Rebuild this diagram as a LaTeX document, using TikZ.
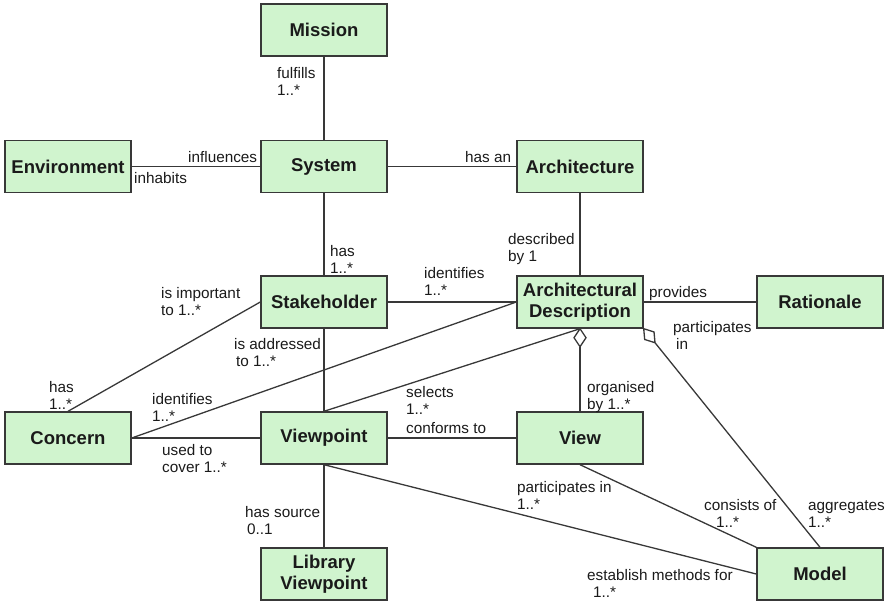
\documentclass[tikz,border=0pt]{standalone}
\usepackage{fontspec}
\setmainfont{Liberation Sans}
\usetikzlibrary{calc}
\definecolor{boxfill}{HTML}{D0F4CE}
\definecolor{edge}{HTML}{383838}
\definecolor{txt}{HTML}{1A1A1A}
\newcommand{\twol}[2]{\begin{tabular}[t]{@{}l@{}}#1\\#2\end{tabular}}
\newcommand{\aggdia}[2]{%
  \coordinate (dm) at ($(#1)!9pt!(#2)$);
  \coordinate (dend) at ($(#1)!18pt!(#2)$);
  \draw[conn, fill=white, line join=miter] (#1) -- ($(dm)!6pt!90:(#2)$) -- (dend) -- ($(dm)!6pt!-90:(#2)$) -- cycle;
  \draw[conn] (dend) -- (#2);}
\begin{document}
\begin{tikzpicture}[x=1pt,y=-1pt,
  cls/.style={draw=edge, fill=boxfill, line width=1.4pt, minimum width=126pt, minimum height=52pt, inner sep=0pt, font=\fontsize{18.5}{21}\selectfont\bfseries, text=txt, align=center},
  lbl/.style={inner sep=0pt, anchor=base west, font=\fontsize{15.3}{17}\selectfont, text=txt},
  conn/.style={draw=edge, line width=1.3pt}
]
\useasboundingbox (0,0) rectangle (889,603);
\node[cls] (mission) at (324,30) {Mission};
\node[cls] (env) at (68,166.5) {Environment};
\node[cls] (system) at (324,166.5) {System};
\node[cls] (arch) at (580,166.5) {Architecture};
\node[cls] (stake) at (324,302) {Stakeholder};
\node[cls] (ad) at (580,302) {Architectural\\Description};
\node[cls] (rat) at (820,302) {Rationale};
\node[cls] (concern) at (68,438) {Concern};
\node[cls] (vp) at (324,438) {Viewpoint};
\node[cls] (view) at (580,438) {View};
\node[cls] (lib) at (324,574) {Library\\Viewpoint};
\node[cls] (model) at (820,574) {Model};

\draw[conn] (mission) -- (system);
\draw[conn] (env) -- (system);
\draw[conn] (system) -- (arch);
\draw[conn] (system) -- (stake);
\draw[conn] (arch) -- (ad);
\draw[conn] (stake) -- (ad);
\draw[conn] (ad) -- (rat);
\draw[conn] (stake.west) -- (concern.north);
\draw[conn] (stake) -- (vp);
\draw[conn] (concern.east) -- (ad.west);
\draw[conn] (vp.north) -- (ad.south);
\aggdia{ad.south}{view.north}
\aggdia{ad.south east}{model.north}
\draw[conn] (concern) -- (vp);
\draw[conn] (vp) -- (view);
\draw[conn] (vp) -- (lib);
\draw[conn] (view.south) -- (model.north west);
\draw[conn] (vp.south) -- (model.west);

\node[lbl] (l1) at (277,78) {\twol{fulfills}{1..*}};
\node[lbl] (l2) at (188,162) {influences};
\node[lbl] (l3) at (134,183) {inhabits};
\node[lbl] (l4) at (465,162) {has an};
\node[lbl] (l5) at (330,256) {\twol{has}{1..*}};
\node[lbl] (l6) at (424,278) {\twol{identifies}{1..*}};
\node[lbl] (l7) at (161,298) {\twol{is important}{to 1..*}};
\node[lbl] (l8) at (234,349) {\twol{is addressed}{\hspace{2pt}to 1..*}};
\node[lbl] (l9) at (49,392) {\twol{has}{1..*}};
\node[lbl] (l10) at (152,404) {\twol{identifies}{1..*}};
\node[lbl] (l11) at (406,397) {\twol{selects}{1..*}};
\node[lbl] (l12) at (508,244) {\twol{described}{by 1}};
\node[lbl] (l13) at (649,297) {provides};
\node[lbl] (l14) at (673,332) {\twol{participates}{\hspace{3pt}in}};
\node[lbl] (l15) at (587,392) {\twol{organised}{by 1..*}};
\node[lbl] (l16) at (406,433) {conforms to};
\node[lbl] (l17) at (162,455) {\twol{used to}{cover 1..*}};
\node[lbl] (l18) at (245,517) {\twol{has source}{\hspace{2pt}0..1}};
\node[lbl] (l19) at (517,492) {\twol{participates in}{1..*}};
\node[lbl] (l20) at (704,510) {\twol{consists of}{\hspace{12pt}1..*}};
\node[lbl] (l21) at (808,510) {\twol{aggregates}{1..*}};
\node[lbl] (l22) at (587,580) {\twol{establish methods for}{\hspace{6pt}1..*}};
\end{tikzpicture}
\end{document}
